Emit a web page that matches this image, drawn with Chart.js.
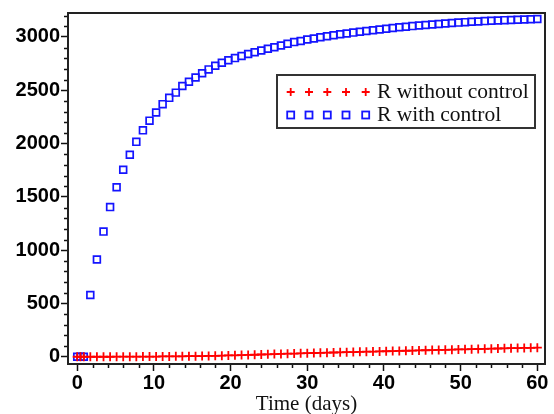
<!DOCTYPE html>
<html>
<head>
<meta charset="utf-8">
<script src="https://cdn.jsdelivr.net/npm/chart.js@4.4.1/dist/chart.umd.min.js"></script>
<style>
  body { margin: 0; background: #fff; }
  #wrap { width: 554px; height: 414px; }
</style>
</head>
<body>
<div id="wrap"><canvas id="chart" width="554" height="414"></canvas></div>
<script>
// time in days
const times = [0, 0.43, 0.86, 1.71, 2.57, 3.43, 4.29, 5.14, 6, 6.86, 7.71, 8.57, 9.43, 10.29, 11.14, 12,
  12.86, 13.71, 14.57, 15.43, 16.29, 17.14, 18, 18.86, 19.71, 20.57, 21.43, 22.29, 23.14, 24, 24.86,
  25.71, 26.57, 27.43, 28.29, 29.14, 30, 30.86, 31.71, 32.57, 33.43, 34.29, 35.14, 36, 36.86, 37.71,
  38.57, 39.43, 40.29, 41.14, 42, 42.86, 43.71, 44.57, 45.43, 46.29, 47.14, 48, 48.86, 49.71, 50.57,
  51.43, 52.29, 53.14, 54, 54.86, 55.71, 56.57, 57.43, 58.29, 59.14, 60];

const rWithoutControl = [0, 0, 0, 0, 0, 0.1, 0.2, 0.3, 0.5, 0.7, 1.0, 1.3, 1.7, 2.1, 2.6, 3.1,
  3.7, 4.3, 5.0, 5.8, 6.7, 7.7, 9, 10.5, 12, 13.8, 15.5, 17.3, 19, 21, 23,
  24.8, 26.6, 28.4, 30.2, 32, 33.6, 35.2, 36.8, 38.3, 39.8, 41.3, 42.8, 44.3, 45.8, 47.3,
  48.8, 50.3, 51.8, 53.3, 54.8, 56.3, 57.8, 59.3, 60.8, 62.3, 63.8, 65.3, 66.8, 68.3, 69.8,
  71.3, 72.8, 74.3, 75.8, 77.2, 78.6, 80, 81.3, 82.6, 83.8, 85];

const rWithControl = [0, 0, 0, 580, 913, 1174, 1404, 1590, 1755, 1895, 2016, 2124, 2215, 2292, 2370, 2429,
  2478, 2540, 2580, 2620, 2660, 2696, 2730, 2758, 2782, 2802, 2822, 2840, 2857, 2873, 2890,
  2904, 2920, 2936, 2952, 2963, 2976, 2986, 2998, 3007, 3016, 3025, 3032, 3041, 3049, 3056,
  3063, 3070, 3077, 3085, 3091, 3096, 3102, 3107, 3112, 3117, 3122, 3127, 3131, 3135, 3139,
  3143, 3146, 3149, 3152, 3155, 3158, 3160, 3162, 3164, 3166, 3168];

const seriesNames = ['R without control', 'R with control'];
const xTicks = [0, 10, 20, 30, 40, 50, 60];
const yTicks = [0, 500, 1000, 1500, 2000, 2500, 3000];
const xTitle = 'Time (days)';

const RED = '#ff0000';
const BLUE = '#1414ff';

function pairs(ys) {
  return ys.map((y, i) => ({ x: times[i], y: y }));
}

// minor ticks + frame around the plot
const framePlugin = {
  id: 'frame',
  afterDraw(chart) {
    const ctx = chart.ctx;
    const a = chart.chartArea;
    const xs = chart.scales.x, ys = chart.scales.y;
    ctx.save();
    ctx.strokeStyle = '#111';
    ctx.lineWidth = 1.5;
    ctx.beginPath();
    for (let v = 0; v <= 60; v += 2) {
      if (v % 10 === 0) continue;
      const px = Math.round(xs.getPixelForValue(v)) + 0.5;
      ctx.moveTo(px, a.bottom);
      ctx.lineTo(px, a.bottom + 4);
    }
    for (let v = 0; v <= 3200; v += 100) {
      if (v % 500 === 0) continue;
      const py = Math.round(ys.getPixelForValue(v)) + 0.5;
      ctx.moveTo(a.left, py);
      ctx.lineTo(a.left - 4, py);
    }
    ctx.stroke();
    ctx.strokeStyle = '#222';
    ctx.lineWidth = 2;
    ctx.strokeRect(a.left, a.top, a.right - a.left, a.bottom - a.top);
    ctx.restore();
  }
};

// legend box with five markers per row, like the original
const legendPlugin = {
  id: 'markerLegend',
  afterDraw(chart) {
    const ctx = chart.ctx;
    const box = { left: 277, top: 75, right: 535, bottom: 128 };
    const markerX = [290.7, 309, 327.3, 346, 365.7];
    const rows = [92, 115];
    ctx.save();
    ctx.fillStyle = '#fff';
    ctx.fillRect(box.left, box.top, box.right - box.left, box.bottom - box.top);
    ctx.strokeStyle = '#333';
    ctx.lineWidth = 2;
    ctx.strokeRect(box.left, box.top, box.right - box.left, box.bottom - box.top);

    ctx.lineWidth = 1.8;
    markerX.forEach(mx => {
      ctx.strokeStyle = RED;
      ctx.beginPath();
      ctx.moveTo(mx - 4, rows[0]); ctx.lineTo(mx + 4, rows[0]);
      ctx.moveTo(mx, rows[0] - 4); ctx.lineTo(mx, rows[0] + 4);
      ctx.stroke();
      ctx.strokeStyle = BLUE;
      ctx.strokeRect(mx - 3.5, rows[1] - 3.5, 7, 7);
    });

    ctx.fillStyle = '#111';
    ctx.font = '21.5px "Liberation Serif", "Times New Roman", serif';
    ctx.textBaseline = 'middle';
    ctx.fillText(seriesNames[0], 377, rows[0]);
    ctx.fillText(seriesNames[1], 377, rows[1]);
    ctx.restore();
  }
};

const tickFont = { family: '"Liberation Sans", Arial, sans-serif', size: 20, weight: 'bold' };

new Chart(document.getElementById('chart'), {
  type: 'scatter',
  data: {
    datasets: [
      {
        label: seriesNames[0],
        data: pairs(rWithoutControl),
        showLine: true,
        borderColor: RED,
        borderWidth: 1.3,
        pointStyle: 'cross',
        pointRadius: 4.5,
        pointBorderWidth: 1.8,
        pointBorderColor: RED,
        pointBackgroundColor: RED
      },
      {
        label: seriesNames[1],
        data: pairs(rWithControl),
        showLine: false,
        pointStyle: 'rect',
        pointRadius: 4.8,
        pointBorderWidth: 1.7,
        pointBorderColor: BLUE,
        pointBackgroundColor: 'rgba(255,255,255,0)'
      }
    ]
  },
  options: {
    responsive: false,
    animation: false,
    devicePixelRatio: 1,
    layout: { padding: { left: 0, top: 11, right: 9, bottom: 0 } },
    plugins: {
      legend: { display: false },
      tooltip: { enabled: false }
    },
    scales: {
      x: {
        type: 'linear',
        min: -1.2,
        max: 61,
        afterBuildTicks: s => { s.ticks = xTicks.map(v => ({ value: v })); },
        afterFit: s => { s.height = 50; },
        grid: { drawOnChartArea: false, tickLength: 7, tickColor: '#111', tickWidth: 1.5 },
        border: { display: false },
        ticks: { color: '#000', font: tickFont, padding: 0, maxRotation: 0, callback: v => String(v) },
        title: {
          display: true,
          text: xTitle,
          color: '#111',
          font: { family: '"Liberation Serif", "Times New Roman", serif', size: 21 },
          padding: { top: 0, bottom: -3 }
        }
      },
      y: {
        type: 'linear',
        min: -68,
        max: 3225,
        afterBuildTicks: s => { s.ticks = yTicks.map(v => ({ value: v })); },
        afterFit: s => { s.width = 68; },
        grid: { drawOnChartArea: false, tickLength: 7, tickColor: '#111', tickWidth: 1.5 },
        border: { display: false },
        ticks: { color: '#000', font: tickFont, padding: 1, callback: v => String(v) }
      }
    }
  },
  plugins: [framePlugin, legendPlugin]
});
</script>
</body>
</html>
